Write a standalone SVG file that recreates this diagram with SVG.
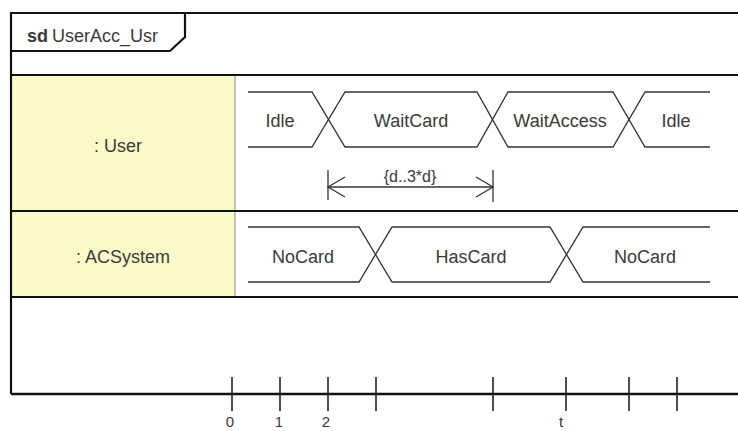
<svg xmlns="http://www.w3.org/2000/svg" width="738" height="431" viewBox="0 0 738 431">
<style>
text{font-family:"Liberation Sans",Arial,sans-serif;fill:#3a3a3a}
.lbl{font-size:18px;text-anchor:middle}
.frame{fill:none;stroke:#111;stroke-width:2.2}
.sep{stroke:#111;stroke-width:2.2}
.tl{fill:none;stroke:#333;stroke-width:1.3}
.tick{stroke:#222;stroke-width:1.6}
.tk{font-size:15px;text-anchor:middle}
</style>
<rect x="0" y="0" width="738" height="431" fill="#fff"/>
<g id="frame">
<rect x="11" y="75" width="224" height="222" fill="#fbfac9"/>
<line x1="235" y1="75" x2="235" y2="297" stroke="#888" stroke-width="1"/>
<polyline class="frame" points="740,13 11,13 11,394"/>
<polyline class="frame" points="11,51 170,51 185,37 185,13"/>
<text x="27" y="42" font-size="18" font-weight="bold" fill="#111">sd</text>
<text x="52" y="42" font-size="18">UserAcc_Usr</text>
<line class="sep" x1="11" y1="75" x2="740" y2="75"/>
<line class="sep" x1="11" y1="211" x2="740" y2="211"/>
<line class="sep" x1="11" y1="297" x2="740" y2="297"/>
</g>
<g id="user">
<text class="lbl" x="118" y="152">: User</text>
<path class="tl" d="M248,92 H312 L345,147 H477 L508,92 H613 L645,147 H710"/>
<path class="tl" d="M248,147 H312 L345,92 H477 L508,147 H613 L645,92 H710"/>
<text class="lbl" x="280" y="127">Idle</text>
<text class="lbl" x="411" y="127">WaitCard</text>
<text class="lbl" x="560" y="127">WaitAccess</text>
<text class="lbl" x="676" y="127">Idle</text>
</g>
<g id="acsystem">
<text class="lbl" x="123" y="263">: ACSystem</text>
<path class="tl" d="M248,227 H359 L392,282 H550 L583,227 H710"/>
<path class="tl" d="M248,282 H359 L392,227 H550 L583,282 H710"/>
<text class="lbl" x="303" y="263">NoCard</text>
<text class="lbl" x="471" y="263">HasCard</text>
<text class="lbl" x="645" y="263">NoCard</text>
</g>
<g id="connectors">
<line class="tl" x1="328" y1="170" x2="328" y2="200"/>
<line class="tl" x1="493" y1="170" x2="493" y2="202"/>
<line class="tl" x1="328" y1="187" x2="493" y2="187"/>
<polyline class="tl" points="345,177 328,187 345,197"/>
<polyline class="tl" points="476,177 493,187 476,197"/>
<text x="410" y="182" font-size="16" text-anchor="middle">{d..3*d}</text>
</g>
<g id="axis">
<line x1="11" y1="394" x2="740" y2="394" stroke="#111" stroke-width="2.6"/>
<line class="tick" x1="232" y1="377" x2="232" y2="411"/>
<line class="tick" x1="280" y1="377" x2="280" y2="411"/>
<line class="tick" x1="328" y1="377" x2="328" y2="411"/>
<line class="tick" x1="376" y1="377" x2="376" y2="411"/>
<line class="tick" x1="493" y1="377" x2="493" y2="411"/>
<line class="tick" x1="566" y1="377" x2="566" y2="411"/>
<line class="tick" x1="629" y1="377" x2="629" y2="411"/>
<line class="tick" x1="677" y1="377" x2="677" y2="411"/>
<text class="tk" x="230" y="427">0</text>
<text class="tk" x="279" y="427">1</text>
<text class="tk" x="326" y="427">2</text>
<text class="tk" x="561" y="427">t</text>
</g>
</svg>
